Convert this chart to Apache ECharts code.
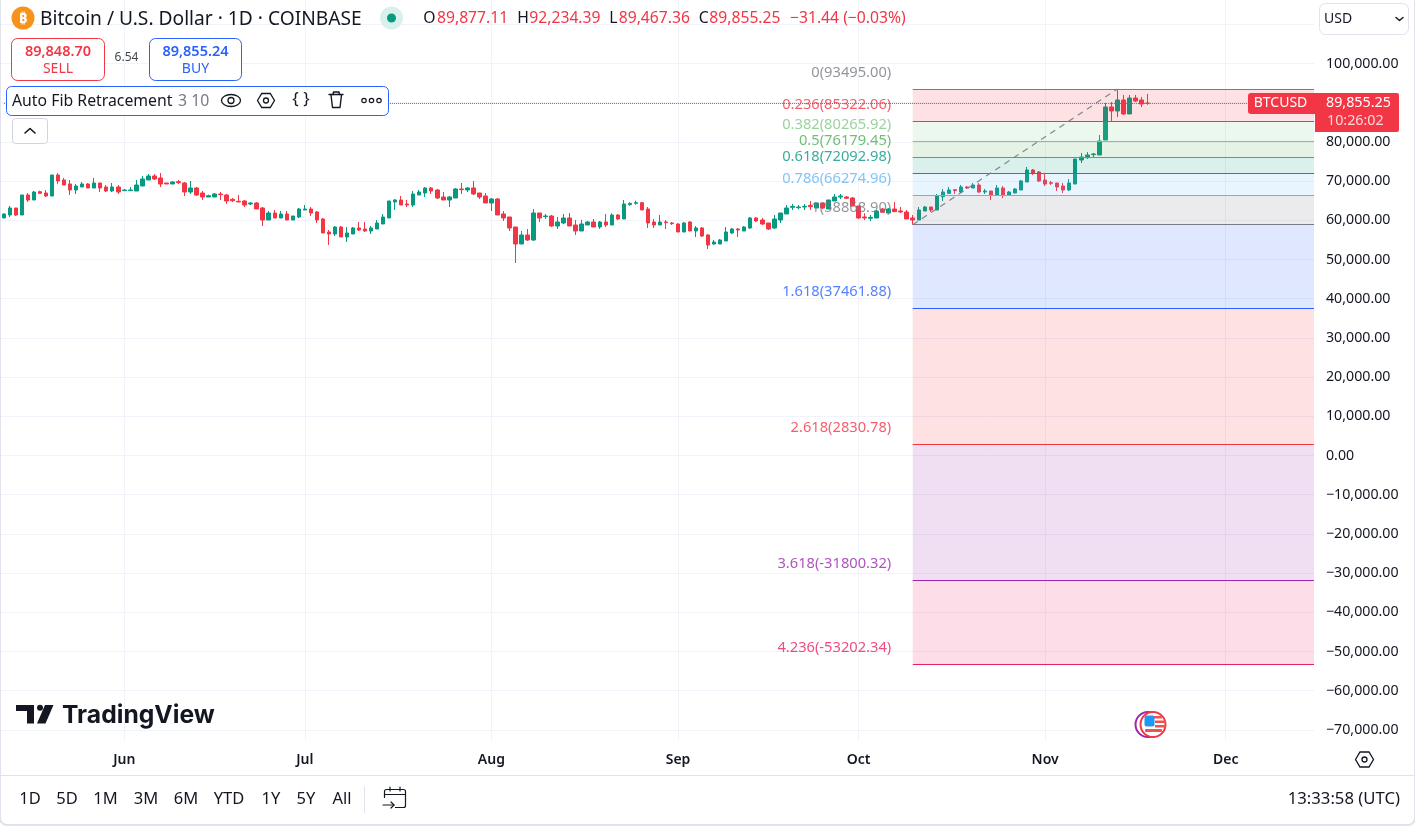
<!DOCTYPE html>
<html><head><meta charset="utf-8">
<style>html,body{margin:0;padding:0;background:#fff;overflow:hidden}#c{width:1415px;height:826px}</style>
<script src="https://cdn.jsdelivr.net/npm/echarts@6/dist/echarts.min.js"></script>
</head><body><div id="c"></div>
<script>
const opens = [
60587,61353,63139,61353,66455,65180,67300,66965,66200,71557,
70281,69261,67730,68496,69261,68241,69516,68496,67475,68496,
67560,67560,67475,68751,70281,71302,70791,69516,69261,69855,
69516,67220,68241,66965,65945,65945,66710,66455,65350,64840,
64924,64159,64414,63139,60077,61863,60587,61608,60077,60843,
62628,62883,62118,60332,57016,56506,58292,55741,56506,58037,
57782,57272,57782,59057,60587,64669,65180,64159,63904,66455,
66965,68240,67730,65945,65180,65690,67985,67730,68240,66965,
66200,64414,65435,61608,60843,58292,53955,56251,54976,61863,
60930,61098,58547,59312,60587,58802,57272,58802,59567,58292,
59567,58802,61353,60332,63989,64329,64499,62883,59567,58802,
59567,59312,59057,57016,59567,57272,58037,56251,53955,53955,
54721,56761,57782,57272,58037,60587,60077,59312,58037,60077,
61608,63309,63224,63394,63819,63139,64414,62883,64924,65945,
65945,65690,63649,60843,60500,60587,62883,61863,62883,62373,
62118,60587,60077,62373,63394,62628,66030,66880,67815,67220,
68496,68240,69006,67220,67475,66455,68240,66455,66965,67730,
69770,72832,72322,70281,69600,69516,68751,67730,69261,75383,
75978,76743,76658,80485,88903,87882,90688,87117,91198,90688,
89877];
const closes = [
61608,63139,61353,66455,65180,67220,66880,66200,71557,70026,
69006,67730,68751,69261,68241,69516,68241,67475,68496,67220,
67730,67730,69006,70536,71302,70536,69261,69261,69771,69600,
67220,68241,66455,65945,66285,66710,66540,64924,65010,64669,
63904,64414,62883,60077,61863,60587,61608,60077,61098,62883,
62883,61863,60077,56761,56506,58292,55741,56761,58037,57527,
57272,58037,59312,60843,64924,65180,63904,63904,66710,67220,
68240,67475,65690,65180,65945,67985,67815,68240,66710,65945,
64414,65435,61353,60587,58037,53955,56251,54976,61863,60587,
61098,58547,59567,60587,58547,57272,59057,59567,58292,59567,
58802,61353,60332,64159,64329,64499,62628,59312,58802,59567,
59397,59142,57016,59312,57272,58037,55996,53700,54465,54976,
57016,57782,57527,58292,60587,59822,59057,57782,60332,61863,
63139,63564,63394,63564,63479,64414,63139,65180,65945,66200,
65605,63649,60587,60587,60758,62373,62033,62883,62203,62118,
60332,60077,62628,63394,62628,66200,67220,67730,67560,68496,
68240,69006,67220,67475,66455,68240,66455,67220,67985,70026,
72832,72067,70026,69261,69431,68496,67730,69516,75638,76148,
76658,76913,80229,88903,87882,90688,87117,91198,90433,89668,
89855];
const lows = [
60587,60843,61098,61353,64669,65180,66710,65945,66200,69261,
69006,66455,66710,68496,68241,68241,67220,67220,67220,66710,
67475,67475,67475,68751,70281,70281,68496,69261,69261,69261,
66200,66710,66200,65180,65945,65945,65180,64159,64669,64669,
63394,63904,62883,58547,60077,60587,60587,60077,60077,60587,
62628,61098,59312,56761,53700,55996,55741,54465,56506,57272,
57016,56506,57782,59057,60587,62628,63904,63394,63394,66455,
65945,66710,65435,65180,63394,65690,66710,67220,66455,65435,
64414,62373,61353,59822,57272,49108,53955,54721,54721,59567,
60332,58292,57782,59057,58547,56251,57272,58802,58292,57782,
58292,58802,60077,60332,63734,63989,62628,58037,58037,58802,
57782,58802,57016,57016,57272,55741,55741,52680,53700,53955,
54721,56506,55741,57272,57782,59567,58802,57527,57782,59312,
61608,62628,62798,62628,62628,63139,62883,62883,64924,65435,
65435,63649,60332,60077,59822,60587,62033,61863,62118,61863,
60332,58869,60077,62373,62118,62628,64924,66710,66710,66965,
67985,68240,66965,66710,65179,66455,65689,66455,66965,67730,
69770,71557,69770,68751,69006,67475,66965,67475,69261,74618,
75638,76148,76658,80485,85331,86352,86862,87117,90178,88903,
89467];
const highs = [
61780,63649,63139,66455,66965,67475,67560,67730,71557,72067,
70791,70281,69261,69771,69516,70791,69516,69006,69516,69006,
67985,68496,70281,71302,71812,71812,72067,69516,70026,70281,
69771,70026,68496,67475,66540,66965,67220,66710,65690,66455,
65180,64669,64669,63394,62373,62628,62373,62373,61098,63139,
63904,63394,62373,60587,57527,58547,58547,58292,58292,59567,
59567,58547,60077,61608,64924,65435,66200,65180,67475,67730,
68495,68495,67985,67220,66200,68240,69516,68495,70026,66965,
66965,65690,65690,62373,60843,58292,57272,57782,62883,61863,
61608,61353,60843,61608,61863,60077,60077,59822,60332,59822,
61608,61778,61608,65180,64584,65010,64669,63394,60332,61353,
60077,59567,59227,59567,59822,58547,58292,56506,54976,55231,
58292,58037,58037,58547,60843,60843,60587,59312,61353,61863,
63904,64159,63904,64159,64924,64414,64584,65180,66710,66710,
66200,65945,63649,61778,61353,62628,63139,63139,64669,63394,
62628,61353,63394,63649,63394,66710,67985,68496,67985,69006,
68751,69516,69516,67985,67475,69006,68751,67475,68240,70281,
73597,73087,72577,71812,70026,69516,69516,70537,75638,77168,
77423,77168,81760,89923,90178,93495,91964,91964,91964,91453,
92234];
const fibRatios = ['0','0.236','0.382','0.5','0.618','0.786','1','1.618','2.618','3.618','4.236'];
const fibPrices = [93495.00,85322.06,80265.92,76179.45,72092.98,66274.96,58868.90,37461.88,2830.78,-31800.32,-53202.34];
const fibLineColors = ['#787b86','#f23645','#81c784','#4caf50','#089981','#64b5f6','#787b86','#2962ff','#f23645','#9c27b0','#e91e63'];
const fibBandColors = ['#f23645','#81c784','#4caf50','#089981','#64b5f6','#787b86','#2962ff','#f23645','#9c27b0','#e91e63'];
const yGridValues = [110000,100000,90000,80000,70000,60000,50000,40000,30000,20000,10000,0,-10000,-20000,-30000,-40000,-50000,-60000,-70000];
const yLabelValues = [100000,80000,70000,60000,50000,40000,30000,20000,10000,0,-10000,-20000,-30000,-40000,-50000,-60000,-70000];
const monthTicks = {'2024-06-01':'Jun','2024-07-01':'Jul','2024-08-01':'Aug','2024-09-01':'Sep','2024-10-01':'Oct','2024-11-01':'Nov','2024-12-01':'Dec'};
const rangeButtons = [['1D',30],['5D',67],['1M',105.5],['3M',146],['6M',186],['YTD',229],['1Y',271],['5Y',306],['All',342]];
const lastPrice = 89855.25;
const fibStartIndex = 151, swingHighIndex = 185;

const categories = [];
for (let i = 0; i < 219; i++) {
  categories.push(new Date(Date.UTC(2024, 4, 12 + i)).toISOString().slice(0, 10));
}
const candleData = opens.map((o, i) => [o, closes[i], lows[i], highs[i]]);
const isMonth = (i, v) => monthTicks[v] !== undefined;
const money = v => (v < 0 ? '\u2212' : '') + Math.abs(v).toLocaleString('en-US', {minimumFractionDigits: 2, maximumFractionDigits: 2});

const FONT = '"Noto Sans"';
const DARK = '#131722', RED = '#f23645', BLUE = '#2962ff', GREEN = '#089981', GRAY = '#787b86';
const Z = 100;
const text = (x, y, s, fill, size, o = {}) => ({type: 'text', z: o.z || Z, silent: true, style: {
  x, y, text: s, fill, font: `${o.weight || 'normal'} ${size}px ${o.family || FONT}`,
  textAlign: o.align || 'left', textVerticalAlign: 'middle', opacity: o.opacity === undefined ? 1 : o.opacity}});
const rect = (x, y, w, h, r, fill, stroke, o = {}) => ({type: 'rect', z: o.z || Z, silent: true,
  shape: {x, y, width: w, height: h, r}, style: {fill: fill || 'transparent', stroke: stroke || null, lineWidth: o.lw || 1}});
const circle = (cx, cy, r, fill, stroke, lw = 1, z = Z) => ({type: 'circle', z, silent: true,
  shape: {cx, cy, r}, style: {fill: fill || 'transparent', stroke: stroke || null, lineWidth: lw}});
const poly = (points, stroke, lw = 1.4, z = Z) => ({type: 'polyline', z, silent: true, shape: {points},
  style: {stroke, lineWidth: lw, fill: 'transparent', lineCap: 'round', lineJoin: 'round'}});
const hex = (cx, cy, rx, ry) => ({type: 'polygon', z: Z, silent: true,
  shape: {points: [[cx - rx, cy], [cx - rx / 2, cy - ry], [cx + rx / 2, cy - ry], [cx + rx, cy], [cx + rx / 2, cy + ry], [cx - rx / 2, cy + ry]]},
  style: {fill: 'transparent', stroke: DARK, lineWidth: 1.3}});

const chrome = [
  rect(1314, 0, 7, 775, 0, '#ffffff', null, {z: 50}),
  rect(0, -10, 1415, 835, 7, null, '#e0e3eb', {lw: 2, z: 60}),
  // header
  circle(23, 18, 11.5, '#f7931a'),
  text(23, 18.5, '\u20bf', '#ffffff', 15, {align: 'center', weight: 'bold'}),
  text(40, 19.5, 'Bitcoin / U.S. Dollar \u00b7 1D \u00b7 COINBASE', DARK, 19.2),
  circle(391.5, 18, 11.5, '#daf0ec'), circle(391.5, 18, 4.5, GREEN),
  text(423.3, 18.5, 'O', DARK, 15.7), text(437, 18.5, '89,877.11', RED, 15.7),
  text(517.3, 18.5, 'H', DARK, 15.7), text(529.3, 18.5, '92,234.39', RED, 15.7),
  text(609.3, 18.5, 'L', DARK, 15.7), text(618.7, 18.5, '89,467.36', RED, 15.7),
  text(698.7, 18.5, 'C', DARK, 15.7), text(709.3, 18.5, '89,855.25', RED, 15.7),
  text(790, 18.5, '\u221231.44 (\u22120.03%)', RED, 15.7),
  // trade buttons
  rect(11.5, 38.5, 93, 42, 6, '#fff', RED),
  text(58, 52, '89,848.70', RED, 14.5, {align: 'center', weight: 600}),
  text(58, 69.5, 'SELL', RED, 14, {align: 'center'}),
  text(126.5, 58, '6.54', '#434651', 12, {align: 'center'}),
  rect(149.5, 38.5, 92, 42, 6, '#fff', BLUE),
  text(195.5, 52, '89,855.24', BLUE, 14.5, {align: 'center', weight: 600}),
  text(195.5, 69.5, 'BUY', BLUE, 14, {align: 'center'}),
  // indicator legend
  rect(6.5, 86.5, 382, 29, 5, '#fff', BLUE),
  text(12, 101, 'Auto Fib Retracement', DARK, 15.8),
  text(178, 101, '3 10', GRAY, 15.8),
  {type: 'ellipse', z: Z, silent: true, shape: {cx: 231, cy: 100.5, rx: 9.5, ry: 6}, style: {fill: 'transparent', stroke: DARK, lineWidth: 1.3}},
  circle(231, 100.5, 3, null, DARK, 1.3),
  hex(266, 100.5, 8.5, 7), circle(266, 100.5, 2.5, null, DARK, 1.3),
  text(301, 99.5, '{ }', DARK, 17, {align: 'center'}),
  poly([[329, 94.5], [343, 94.5]], DARK), poly([[333, 94.5], [333.5, 92], [339, 92], [339.5, 94.5]], DARK),
  poly([[331, 95], [332.5, 107.5], [340, 107.5], [341.5, 95]], DARK),
  circle(364, 100.5, 2.2, null, DARK, 1.2), circle(371.5, 100.5, 2.2, null, DARK, 1.2), circle(379, 100.5, 2.2, null, DARK, 1.2),
  rect(12.5, 118.5, 35, 25, 3, '#fff', '#d1d4dc'),
  poly([[25, 133], [30, 128.5], [35, 133]], DARK, 1.6),
  // currency selector
  rect(1319.5, 3.5, 89, 31, 6, '#fff', '#e0e3eb'),
  text(1324, 19.5, 'USD', DARK, 14),
  poly([[1396, 17.5], [1399.5, 20.5], [1403, 17.5]], DARK, 1.5),
  // last price tags
  {type: 'rect', z: Z, silent: true, shape: {x: 1248, y: 93, width: 67, height: 21, r: [3, 0, 0, 3]}, style: {fill: RED}},
  text(1280.5, 103.5, 'BTCUSD', '#ffffff', 14, {align: 'center'}),
  {type: 'rect', z: Z, silent: true, shape: {x: 1315, y: 93, width: 84, height: 39, r: [0, 2, 2, 0]}, style: {fill: RED}},
  text(1326, 103, '89,855.25', '#ffffff', 14.3),
  text(1327, 120.5, '10:26:02', '#ffffff', 14.3, {opacity: 0.8}),
  // TradingView logo
  {type: 'polygon', z: Z, silent: true, shape: {points: [[16, 705], [34, 705], [34, 723.5], [27, 723.5], [27, 711], [16, 711]]}, style: {fill: DARK}},
  circle(40, 707.8, 3, DARK),
  {type: 'polygon', z: Z, silent: true, shape: {points: [[45, 705], [53.5, 705], [45.5, 723.5], [37, 723.5]]}, style: {fill: DARK}},
  text(62, 715.5, 'TradingView', DARK, 24.7, {weight: 700, family: 'Inter'}),
  // event marker
  circle(1148, 724.5, 12.5, '#fff', '#9c27b0', 2),
  circle(1153, 724.5, 12.5, '#fff', RED, 2),
  rect(1150, 716, 12, 2.5, 0, '#ef5350'), rect(1155, 720.5, 11, 2.5, 0, '#ef5350'),
  rect(1155, 725, 11, 2.5, 0, '#ef5350'), rect(1145, 729, 17, 3, 1, '#ef5350'),
  rect(1144.5, 715.5, 10, 11, 2, '#2196f3'),
  // axis settings
  hex(1364.5, 759.5, 9, 7.5), circle(1364.5, 759.5, 2.5, null, DARK, 1.3),
  // bottom toolbar
  {type: 'line', z: Z, silent: true, shape: {x1: 0, y1: 775.5, x2: 1415, y2: 775.5}, style: {stroke: '#e0e3eb', lineWidth: 1}},
  {type: 'line', z: Z, silent: true, shape: {x1: 364.5, y1: 786, x2: 364.5, y2: 813}, style: {stroke: '#e0e3eb', lineWidth: 1}},
  ...rangeButtons.map(b => text(b[1], 799.5, b[0], DARK, 16.5, {align: 'center'})),
  rect(384.5, 789.5, 21, 18, 2, null, DARK, {lw: 1.2}),
  rect(383, 798, 12, 12, 0, '#fff', null),
  poly([[384.5, 794.5], [405.5, 794.5]], DARK, 1.2), poly([[390, 787], [390, 791]], DARK, 1.2), poly([[400, 787], [400, 791]], DARK, 1.2),
  poly([[383, 805], [394, 805]], DARK, 1.2), poly([[391, 802], [394, 805], [391, 808]], DARK, 1.2),
  text(1400, 799.5, '13:33:58 (UTC)', DARK, 16.7, {align: 'right'})
];

const startCat = categories[fibStartIndex], endCat = categories[categories.length - 1];
const areas = fibBandColors.map((c, i) => [
  {xAxis: startCat, yAxis: fibPrices[i], itemStyle: {color: c, opacity: 0.15}},
  {xAxis: endCat, yAxis: fibPrices[i + 1]}]);
const lines = fibPrices.map((p, i) => [
  {xAxis: startCat, yAxis: p, lineStyle: {color: fibLineColors[i], width: 1, type: 'solid'}},
  {xAxis: endCat, yAxis: p}]);
lines.push([
  {xAxis: startCat, yAxis: fibPrices[6], lineStyle: {color: GRAY, width: 1.2, type: [6, 5], opacity: 0.9}},
  {xAxis: categories[swingHighIndex], yAxis: fibPrices[0]}]);
lines.push([
  {xAxis: categories[0], yAxis: lastPrice, lineStyle: {color: RED, width: 1, type: 'dotted'}},
  {xAxis: endCat, yAxis: lastPrice}]);

const chart = echarts.init(document.getElementById('c'), null, {renderer: 'canvas'});
chart.setOption({
  animation: false,
  backgroundColor: '#ffffff',
  textStyle: {fontFamily: FONT},
  tooltip: {show: false},
  grid: {left: 0.9, top: 0, width: 1318.1, height: 740, containLabel: false},
  xAxis: {
    type: 'category', data: categories, boundaryGap: true,
    axisLine: {show: false}, axisTick: {show: false, alignWithLabel: true},
    splitLine: {show: true, interval: isMonth, alignWithLabel: true, lineStyle: {color: '#f0f3fa', width: 1}},
    axisLabel: {interval: isMonth, formatter: v => monthTicks[v] || '', color: DARK, fontFamily: FONT, fontSize: 14, fontWeight: 600, margin: 13.5, hideOverlap: false}
  },
  yAxis: {
    type: 'value', position: 'right', min: -72577, max: 116198,
    axisLine: {show: false},
    axisTick: {show: false, customValues: yGridValues},
    splitLine: {show: true, lineStyle: {color: '#f0f3fa', width: 1}},
    axisLabel: {customValues: yLabelValues, formatter: money, color: DARK, fontFamily: FONT, fontSize: 14.2, margin: 7, align: 'left'}
  },
  series: [
    {type: 'candlestick', name: 'BTCUSD', data: candleData, barWidth: 4, z: 2,
     itemStyle: {color: GREEN, color0: RED, borderColor: GREEN, borderColor0: RED, borderWidth: 1}},
    {type: 'scatter', name: 'Auto Fib Retracement', z: 6, symbolSize: 0, silent: true,
     data: fibPrices.map((p, i) => ({
       value: [startCat, p],
       label: {color: fibLineColors[i], formatter: fibRatios[i] + '(' + p.toFixed(2) + ')'}
     })),
     label: {show: true, position: 'left', distance: 21.5, offset: [0, -16.5], fontFamily: FONT, fontSize: 14.7},
     markArea: {silent: true, z: 3, data: areas},
     markLine: {silent: true, z: 5, symbol: 'none', label: {show: false}, animation: false, data: lines}}
  ],
  graphic: {elements: chrome}
});
</script>
</body></html>
